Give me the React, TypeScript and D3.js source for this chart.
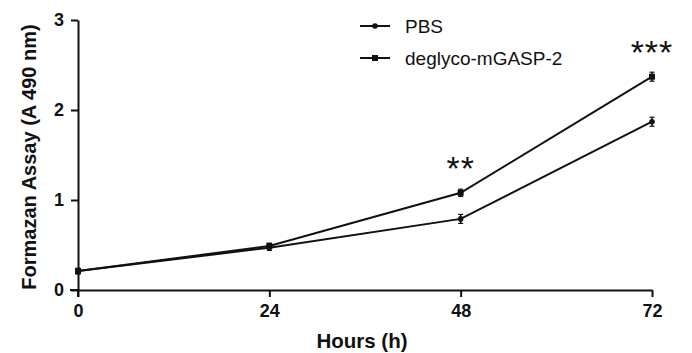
import React, { useRef, useEffect } from 'react';
import * as d3 from 'd3';

const hours = [0, 24, 48, 72];
const pbsMean = [0.21, 0.47, 0.79, 1.87];
const pbsErr = [0.03, 0.03, 0.05, 0.05];
const degMean = [0.21, 0.49, 1.08, 2.37];
const degErr = [0.03, 0.03, 0.04, 0.05];
const yTicks = [0, 1, 2, 3];
const stars = [
  { hour: 48, value: 1.08, label: '**' },
  { hour: 72, value: 2.37, label: '***' },
];

const FONT = 'Liberation Sans, Arial, sans-serif';

const App = () => {
  const svgRef = useRef<SVGSVGElement>(null);

  useEffect(() => {
    const svg = d3.select(svgRef.current);
    svg.selectAll('*').remove();

    const x = d3.scaleLinear().domain([0, 72]).range([78, 652]);
    const y = d3.scaleLinear().domain([0, 3]).range([290, 20]);

    // axes
    const xAxis = svg.append('g').attr('transform', `translate(0,${y(0)})`)
      .call(d3.axisBottom(x).tickValues(hours).tickSize(7).tickSizeOuter(0).tickPadding(7).tickFormat(d3.format('d')));
    const yAxis = svg.append('g').attr('transform', `translate(${x(0)},0)`)
      .call(d3.axisLeft(y).tickValues(yTicks).tickSize(7).tickSizeOuter(0).tickPadding(7).tickFormat(d3.format('d')));

    [xAxis, yAxis].forEach(a => {
      a.select('.domain').attr('stroke', '#111').attr('stroke-width', 2);
      a.selectAll('.tick line').attr('stroke', '#111').attr('stroke-width', 2);
      a.selectAll('.tick text')
        .attr('font-family', FONT)
        .attr('font-size', 18)
        .attr('font-weight', 'bold')
        .attr('fill', '#111');
    });
    // extend axis lines slightly past origin
    svg.append('line').attr('x1', x(0) - 8).attr('x2', x(0)).attr('y1', y(0)).attr('y2', y(0))
      .attr('stroke', '#111').attr('stroke-width', 2);
    svg.append('line').attr('x1', x(0)).attr('x2', x(0)).attr('y1', y(0)).attr('y2', y(0) + 7)
      .attr('stroke', '#111').attr('stroke-width', 2);

    const line = d3.line<number>().x((_, i) => x(hours[i])).y(d => y(d));

    const series = [
      { mean: pbsMean, err: pbsErr, shape: 'circle' },
      { mean: degMean, err: degErr, shape: 'square' },
    ];

    series.forEach(s => {
      svg.append('path').datum(s.mean).attr('d', line)
        .attr('fill', 'none').attr('stroke', '#111').attr('stroke-width', 2);
      s.mean.forEach((m, i) => {
        const cx = x(hours[i]);
        svg.append('line').attr('x1', cx).attr('x2', cx)
          .attr('y1', y(m - s.err[i])).attr('y2', y(m + s.err[i]))
          .attr('stroke', '#111').attr('stroke-width', 1.5);
        [m - s.err[i], m + s.err[i]].forEach(v => {
          svg.append('line').attr('x1', cx - 2.5).attr('x2', cx + 2.5)
            .attr('y1', y(v)).attr('y2', y(v))
            .attr('stroke', '#111').attr('stroke-width', 1.2);
        });
        if (s.shape === 'circle') {
          svg.append('circle').attr('cx', cx).attr('cy', y(m)).attr('r', 2.8).attr('fill', '#111');
        } else {
          svg.append('rect').attr('x', cx - 3).attr('y', y(m) - 3)
            .attr('width', 6).attr('height', 6).attr('fill', '#111');
        }
      });
    });

    // significance stars
    svg.selectAll('.star').data(stars).enter().append('text')
      .attr('x', d => x(d.hour))
      .attr('y', d => y(d.value) - 13)
      .attr('text-anchor', 'middle')
      .attr('font-family', FONT)
      .attr('font-size', 34)
      .attr('letter-spacing', 1)
      .attr('fill', '#111')
      .text(d => d.label);

    // legend
    const legend = [
      { label: 'PBS', shape: 'circle', yy: 26 },
      { label: 'deglyco-mGASP-2', shape: 'square', yy: 58 },
    ];
    legend.forEach(l => {
      svg.append('line').attr('x1', 360).attr('x2', 390).attr('y1', l.yy).attr('y2', l.yy)
        .attr('stroke', '#111').attr('stroke-width', 2);
      if (l.shape === 'circle') {
        svg.append('circle').attr('cx', 375).attr('cy', l.yy).attr('r', 2.8).attr('fill', '#111');
      } else {
        svg.append('rect').attr('x', 372).attr('y', l.yy - 3).attr('width', 6).attr('height', 6).attr('fill', '#111');
      }
      svg.append('text').attr('x', 405).attr('y', l.yy + 6.5)
        .attr('font-family', FONT).attr('font-size', 19).attr('fill', '#111')
        .text(l.label);
    });

    // axis titles
    svg.append('text')
      .attr('x', 362).attr('y', 348)
      .attr('text-anchor', 'middle')
      .attr('font-family', FONT).attr('font-size', 20.5).attr('font-weight', 'bold').attr('fill', '#111')
      .text('Hours (h)');
    svg.append('text')
      .attr('transform', 'translate(36,157) rotate(-90)')
      .attr('text-anchor', 'middle')
      .attr('font-family', FONT).attr('font-size', 20).attr('font-weight', 'bold').attr('fill', '#111')
      .text('Formazan Assay (A 490 nm)');
  }, []);

  return (
    <svg ref={svgRef} width={692} height={353}
      style={{ position: 'absolute', left: 0, top: 0, background: '#fff' }} />
  );
};

export default App;
